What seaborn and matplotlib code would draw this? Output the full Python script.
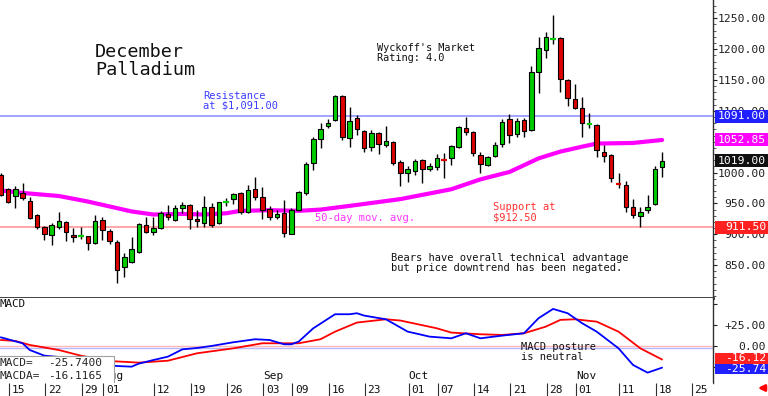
import numpy as np
import matplotlib
matplotlib.use("Agg")
import matplotlib.pyplot as plt
import matplotlib.transforms as mtransforms
from matplotlib.patches import Rectangle
from matplotlib.ticker import MultipleLocator
import seaborn as sns

# ---------------- data (trading-day index 0 = 2019-07-11) ----------------
opens = [996, 973, 962, 967, 954, 931, 912, 899, 911, 920,
         899, 897, 897, 886, 923, 906, 888, 847, 855, 871,
         915, 904, 910, 933, 923, 943, 947, 925, 918, 944,
         918, 951, 957, 967, 936, 973, 960, 941, 928, 934,
         901, 939, 967, 1015, 1054, 1075, 1085, 1124, 1056, 1088,
         1067, 1041, 1064, 1045, 1049, 1017, 999, 1002, 1020, 1006,
         1009, 1023, 1024, 1041, 1072, 1066, 1028, 1012, 1027, 1046,
         1087, 1062, 1085, 1069, 1163, 1199, 1216, 1218, 1150, 1119,
         1105, 1078, 1077, 1033, 1028, 984, 980, 944, 930, 939,
         949, 1009]
highs = [1000, 975, 978, 983, 961, 933, 914, 918, 936, 922,
         910, 912, 898, 931, 928, 908, 891, 870, 896, 918,
         928, 928, 938, 947, 947, 952, 949, 939, 962, 950,
         953, 958, 967, 968, 980, 993, 977, 946, 939, 955,
         942, 970, 1017, 1058, 1080, 1087, 1126, 1126, 1106, 1093,
         1069, 1069, 1066, 1075, 1051, 1020, 1011, 1022, 1022, 1015,
         1030, 1032, 1045, 1076, 1090, 1068, 1033, 1027, 1050, 1087,
         1095, 1088, 1088, 1173, 1220, 1228, 1255, 1220, 1151, 1143,
         1122, 1097, 1079, 1045, 1030, 999, 986, 957, 944, 964,
         1011, 1033]
lows = [962, 950, 943, 956, 925, 908, 891, 883, 909, 889,
        887, 892, 875, 885, 891, 884, 821, 831, 853, 870,
        902, 899, 909, 923, 922, 934, 908, 912, 912, 912,
        917, 946, 949, 933, 934, 956, 925, 923, 925, 896,
        900, 938, 964, 1004, 1040, 1072, 1083, 1053, 1041, 1061,
        1034, 1035, 1030, 1041, 1012, 978, 985, 996, 983, 1003,
        1004, 991, 1012, 1040, 1061, 1027, 999, 1011, 1026, 1041,
        1048, 1058, 1058, 1067, 1129, 1186, 1208, 1131, 1108, 1103,
        1058, 1072, 1025, 1017, 985, 975, 936, 926, 911.5, 934,
        947, 993]
closes = [964, 952, 974, 958, 927, 911, 900, 915, 922, 904,
          895, 897.5, 886, 922, 907, 889, 842, 863, 876, 917,
          904, 910, 934, 928, 943, 947, 925, 921, 944, 915,
          952, 952, 965, 936, 972, 960, 939, 928, 933, 902,
          939, 968, 1014, 1054, 1071, 1080, 1124, 1058, 1083, 1071,
          1040, 1064, 1046, 1051, 1015, 999, 1006, 1019, 1006, 1011,
          1024, 1021, 1043, 1074, 1066, 1032, 1014, 1025, 1045, 1082,
          1061, 1083, 1067, 1163, 1202, 1220, 1217, 1152, 1121, 1105,
          1080, 1079, 1037, 1027, 991, 982, 944, 931, 936, 944,
          1006, 1019]

ma_idx = [0, 3, 8, 12, 15, 18, 21, 25, 28, 31, 33, 37, 41, 44, 48,
          55, 62, 66, 70, 74, 77, 80, 82, 87, 91]
ma_val = [971, 967, 962, 953, 945, 937, 932, 933, 932, 934, 938, 939, 938, 940, 946,
          957, 973, 989, 1001, 1023, 1034, 1042, 1047, 1048, 1052.85]

macd_idx = [0, 3, 4, 6, 9, 12, 16, 18, 19, 21, 23, 25, 27, 29, 32, 35, 37, 39, 40,
            41, 43, 46, 48, 49, 50, 53, 56, 57, 59, 62, 64, 66, 69, 72, 74, 76, 78,
            80, 82, 85, 87, 89, 91]
macd_val = [10.3, 3.2, -4.8, -11.5, -13.9, -19.8, -23.8, -24.6, -21.0, -16.7, -12.7,
            -4.0, -2.4, 0.0, 4.4, 8.0, 7.1, 2.0, 2.0, 5.2, 21.0, 37.7, 37.7, 38.9,
            36.1, 31.7, 17.0, 15.1, 11.1, 9.1, 15.1, 9.1, 12.3, 15.1, 33.0, 44.0,
            38.9, 27.0, 17.0, -2.8, -22.6, -31.7, -25.74]
sig_idx = [0, 2, 4, 8, 11, 15, 19, 23, 27, 32, 36, 39, 41, 44, 46, 49, 53, 55, 60,
           62, 66, 69, 72, 75, 77, 79, 82, 85, 88, 91]
sig_val = [7.1, 6.0, 1.2, -4.8, -11.5, -17.9, -19.8, -17.5, -8.7, -2.8, 3.2, 3.2,
           3.2, 8.0, 17.0, 27.8, 31.7, 30.2, 21.0, 15.9, 13.9, 13.1, 15.1, 23.0,
           31.0, 31.7, 28.9, 17.0, -2.8, -16.12]

tick_idx = [2, 7, 12, 15, 22, 27, 32, 37, 41, 46, 51, 57, 61, 66, 71, 76, 80, 86, 91, 96]
tick_lbl = ["15", "22", "29", "01", "12", "19", "26", "03", "09", "16", "23",
            "01", "07", "14", "21", "28", "01", "11", "18", "25"]
month_idx = [15, 37, 57, 80]
month_lbl = ["Aug", "Sep", "Oct", "Nov"]

price_ticks = [850, 900, 950, 1000, 1100, 1150, 1200, 1250]
resistance = 1091.00
support = 911.50
ma_last = 1052.85
last_close = 1019.00
macd_last = -25.7400
macda_last = -16.1165

# ---------------- style ----------------
sns.set_theme(style="white")
plt.rcParams["font.family"] = ["DejaVu Sans Mono", "DejaVu Sans"]

W, H = 768, 396
fig = plt.figure(figsize=(7.68, 3.96), dpi=100)
fig.patch.set_facecolor("white")

ax1 = fig.add_axes([0, 1 - 298 / H, 713 / W, 298 / H])
ax2 = fig.add_axes([0, 1 - 383 / H, 713 / W, 85 / H], sharex=ax1)
axd = fig.add_axes([0, 0, 713 / W, 13 / H], sharex=ax1)

o = np.array(opens, float); c = np.array(closes, float)
hi = np.array(highs, float); lo = np.array(lows, float)
x = np.arange(len(o))
up = c >= o
green, red = "#00cc00", "#dd0000"

# wicks
ax1.vlines(x, lo, hi, color="black", lw=1.0, zorder=3)
# bodies
bh = np.abs(c - o)
normal = bh > 2.5
cols = np.where(up, green, red)
ax1.bar(x[normal], bh[normal], bottom=np.minimum(o, c)[normal], width=0.62,
        color=cols[normal], edgecolor="black", linewidth=0.8, zorder=4)
doji = ~normal
ax1.hlines(c[doji], x[doji] - 0.4, x[doji] + 0.4, colors=cols[doji], lw=1.6, zorder=4)

# lines
ax1.axhline(resistance, color="#9c9cff", lw=1.3, zorder=1)
ax1.axhline(support, color="#ffa0a0", lw=1.3, zorder=1)
sns.lineplot(x=ma_idx, y=ma_val, ax=ax1, color="#ff00ff", lw=3, zorder=2)

ax1.set_xlim(-0.1, 98.0)
ax1.set_ylim(796.7, 1279.7)

# MACD panel
ax2.axhline(0.4, color="#ffb8b8", lw=1.0, zorder=1)
ax2.axhline(-2.7, color="#b8b8ff", lw=1.0, zorder=1)
sns.lineplot(x=sig_idx, y=sig_val, ax=ax2, color="#ff0000", lw=1.3, zorder=3)
sns.lineplot(x=macd_idx, y=macd_val, ax=ax2, color="#0000ff", lw=1.3, zorder=3)
ax2.set_ylim(-44, 57)

# axes styling
for ax in (ax1, ax2, axd):
    ax.set_facecolor("white")
    ax.set_xlabel(""); ax.set_ylabel("")
    for s in ("top", "left"):
        ax.spines[s].set_visible(False)
    ax.tick_params(axis="x", bottom=False, labelbottom=False)
ax1.spines["bottom"].set_color("#303030"); ax1.spines["bottom"].set_linewidth(2)
ax1.spines["right"].set_color("#303030"); ax1.spines["right"].set_linewidth(1)
ax2.spines["bottom"].set_visible(False)
ax2.spines["right"].set_color("#303030"); ax2.spines["right"].set_linewidth(1)
for s in ("bottom", "right"):
    axd.spines[s].set_visible(False)
axd.set_yticks([])
axd.set_ylim(0, 1)

# right price axis
ax1.yaxis.tick_right()
ax1.set_yticks(price_ticks)
ax1.set_yticklabels([f"{v:.2f}" for v in price_ticks], ha="right", fontsize=8.2, color="#202020")
ax1.yaxis.set_minor_locator(MultipleLocator(10))
ax1.tick_params(axis="y", which="major", direction="out", length=3, width=0.8,
                pad=35, colors="#202020", left=False, right=True)
ax1.tick_params(axis="y", which="minor", direction="out", length=2, width=0.6,
                left=False, right=True, colors="#404040")

ax2.yaxis.tick_right()
mt = [-25, 0, 25, 50]
ax2.set_yticks(mt)
ax2.set_yticklabels(["", "0.00", "+25.00", ""], ha="right", fontsize=8.2, color="#202020")
ax2.tick_params(axis="y", direction="out", length=3, width=0.8, pad=35,
                left=False, right=True, colors="#202020")

# value boxes on the right
def value_box(ax, yval, label, color, hh):
    tr = mtransforms.blended_transform_factory(fig.transFigure, ax.transData)
    ax.add_patch(Rectangle((715 / W, yval - hh / 2), 53 / W, hh, transform=tr,
                           facecolor=color, edgecolor="none", clip_on=False, zorder=8))
    ax.text(766 / W, yval, label, transform=tr, ha="right", va="center",
            color="white", fontsize=8.2, zorder=9, clip_on=False)

value_box(ax1, resistance, f"{resistance:.2f}", "#2020ff", 21)
value_box(ax1, ma_last, f"{ma_last:.2f}", "#ff00ff", 21)
value_box(ax1, last_close, f"{last_close:.2f}", "#101010", 21)
value_box(ax1, support, f"{support:.2f}", "#ff2020", 21)
value_box(ax2, macda_last + 1.5, f"{macda_last:.2f}", "#ff2020", 12.5)
value_box(ax2, macd_last - 1.5, f"{macd_last:.2f}", "#2020ff", 12.5)

# annotations
def t1(px, py, s, **kw):
    ax1.text(px / 713, 1 - py / 298, s, transform=ax1.transAxes, va="top", ha="left",
             linespacing=1.0, **kw)

def t2(px, py, s, **kw):
    ax2.text(px / 713, (383 - py) / 85, s, transform=ax2.transAxes, va="top", ha="left",
             linespacing=1.0, **kw)

t1(95, 43, "December\nPalladium", fontsize=13.3, color="#111111")
t1(377, 43, "Wyckoff's Market\nRating: 4.0", fontsize=7.4, color="#111111")
t1(203, 91, "Resistance\nat $1,091.00", fontsize=7.5, color="#3c3cff")
t1(315, 213, "50-day mov. avg.", fontsize=7.5, color="#ff33ff")
t1(493, 202, "Support at\n$912.50", fontsize=7.5, color="#ff3030")
t1(391, 253, "Bears have overall technical advantage\nbut price downtrend has been negated.",
   fontsize=7.5, color="#111111")
t2(0, 299, "MACD", fontsize=7.8, color="#111111")
t2(521, 342, "MACD posture\nis neutral", fontsize=7.5, color="#111111")

# month labels
for mi, ml in zip(month_idx, month_lbl):
    ax2.text(mi - 0.88, -41.5, ml, ha="left", va="bottom", fontsize=8, color="#111111")

# MACD readout box
ax2.add_patch(Rectangle((-1 / W, 1 - 384 / H), 115 / W, 28 / H, transform=fig.transFigure,
                        facecolor="white", edgecolor="#a0a0a0", lw=0.8, zorder=10,
                        clip_on=False))
fig.text(0 / W, 1 - 363 / H, "MACD=", fontsize=8, va="center", ha="left", zorder=11)
fig.text(48 / W, 1 - 363 / H, f"{macd_last:.4f}", fontsize=8, va="center", ha="left", zorder=11)
fig.text(0 / W, 1 - 376 / H, "MACDA=", fontsize=8, va="center", ha="left", zorder=11)
fig.text(48 / W, 1 - 376 / H, f"{macda_last:.4f}", fontsize=8, va="center", ha="left", zorder=11)

# date row
tp = np.array(tick_idx) - 0.88
axd.vlines(tp, 0, 1, color="#303030", lw=0.8)
for p, l in zip(tp, tick_lbl):
    axd.text(p + 0.35, 0.45, l, ha="left", va="center", fontsize=8, color="#111111")

# red arrow at bottom right
ax1.annotate("", xy=(755 / W, 8 / H), xytext=(767 / W, 8 / H), xycoords="figure fraction",
             textcoords="figure fraction",
             arrowprops=dict(arrowstyle="-|>", color="#ff0000", lw=2, mutation_scale=9))

fig.savefig("out.png", dpi=100, facecolor="white")
